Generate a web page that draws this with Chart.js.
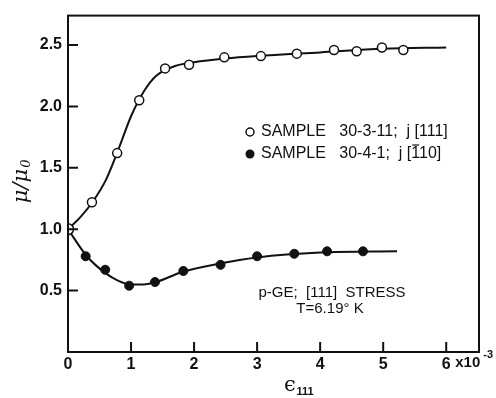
<!DOCTYPE html>
<html>
<head>
<meta charset="utf-8">
<script src="https://cdn.jsdelivr.net/npm/chart.js@4/dist/chart.umd.min.js"></script>
<style>
  body { margin: 0; background: #fff; }
</style>
</head>
<body>
<canvas id="chart" width="496" height="398"></canvas>
<script>
// measured points (strain in units of 1e-3, mobility ratio)
const openX = [0, 0.38, 0.78, 1.13, 1.54, 1.92, 2.48, 3.06, 3.63, 4.22, 4.58, 4.98, 5.32];
const openY = [1.0, 1.22, 1.62, 2.05, 2.31, 2.34, 2.40, 2.41, 2.43, 2.46, 2.45, 2.48, 2.46];
const filledX = [0, 0.28, 0.59, 0.97, 1.38, 1.83, 2.42, 3.0, 3.59, 4.11, 4.68];
const filledY = [1.0, 0.78, 0.67, 0.54, 0.57, 0.66, 0.71, 0.78, 0.80, 0.82, 0.82];

// hand-drawn fit curves
const openFitX = [0, 0.2, 0.4, 0.6, 0.8, 1.0, 1.2, 1.4, 1.7, 2.0, 2.5, 3.0, 4.0, 5.0, 6.0];
const openFitY = [1.0, 1.1, 1.23, 1.4, 1.65, 1.92, 2.12, 2.25, 2.33, 2.36, 2.39, 2.41, 2.44, 2.47, 2.48];
const filledFitX = [0, 0.3, 0.6, 0.8, 1.0, 1.2, 1.4, 1.8, 2.4, 3.0, 4.0, 5.22];
const filledFitY = [1.0, 0.78, 0.64, 0.58, 0.55, 0.55, 0.57, 0.65, 0.72, 0.77, 0.81, 0.82];

const xTicks = [0, 1, 2, 3, 4, 5, 6];
const yTicks = [0.5, 1.0, 1.5, 2.0, 2.5];

const legendLabels = ['SAMPLE   30-3-11;  j [111]', 'SAMPLE   30-4-1;  j [110]'];

const pts = (xs, ys) => xs.map((x, i) => ({ x: x, y: ys[i] }));
const ink = '#111';
const sans = '"Liberation Sans", Arial, sans-serif';

// box, inward ticks and all the free text
const decor = {
  id: 'decor',
  afterDraw(chart) {
    const c = chart.ctx, a = chart.chartArea;
    const xs = chart.scales.x, ys = chart.scales.y;
    c.save();
    c.strokeStyle = ink;
    c.lineWidth = 2;
    c.strokeRect(a.left, a.top, a.right - a.left, a.bottom - a.top);
    c.beginPath();
    xTicks.forEach(v => {
      if (v === 0) return;
      const px = xs.getPixelForValue(v);
      c.moveTo(px, a.bottom); c.lineTo(px, a.bottom - 10);
    });
    yTicks.forEach(v => {
      const py = ys.getPixelForValue(v);
      c.moveTo(a.left, py); c.lineTo(a.left + 10, py);
    });
    c.stroke();

    c.fillStyle = ink;
    c.textBaseline = 'middle';
    // x10^-3 after the last tick label
    const p6 = xs.getPixelForValue(6);
    c.font = 'bold 15px ' + sans;
    c.textAlign = 'left';
    c.fillText('x10', p6 + 9, 363);
    c.font = 'bold 11px ' + sans;
    c.fillText('-3', p6 + 37, 355);

    // axis titles
    c.save();
    c.translate(22, 182);
    c.rotate(-Math.PI / 2);
    c.textAlign = 'left';
    c.font = 'italic 21px "DejaVu Serif", serif';
    const mw = c.measureText('\u03BC/\u03BC').width;
    c.fillText('\u03BC/\u03BC', -mw / 2 - 4, 0);
    c.font = 'italic 13px "DejaVu Serif", serif';
    c.fillText('0', mw / 2 - 3, 5);
    c.restore();
    c.textAlign = 'center';
    c.font = '21px "DejaVu Serif", serif';
    c.fillText('\u03F5', 290, 386);
    c.font = 'bold 11px ' + sans;
    c.fillText('111', 305, 392);

    // legend
    c.font = '16px ' + sans;
    c.textAlign = 'left';
    c.lineWidth = 1.5;
    c.beginPath();
    c.arc(250, 132, 4, 0, Math.PI * 2);
    c.fillStyle = '#fff';
    c.fill();
    c.stroke();
    c.fillStyle = ink;
    c.beginPath();
    c.arc(250, 154, 4.5, 0, Math.PI * 2);
    c.fill();
    c.fillText(legendLabels[0], 261, 132);
    c.fillText(legendLabels[1], 261, 154);
    // overbar on the first index of [110]
    const pre = c.measureText('SAMPLE   30-4-1;  j [').width;
    const w1 = c.measureText('1').width;
    c.lineWidth = 1.2;
    c.beginPath();
    c.moveTo(261 + pre + 1, 145);
    c.lineTo(261 + pre + w1 - 1, 145);
    c.stroke();

    // annotation
    c.font = '15px ' + sans;
    c.textAlign = 'center';
    c.fillText('p-GE;  [111]  STRESS', 332, 293);
    c.fillText('T=6.19\u00B0 K', 330, 309);
    c.restore();
  }
};

new Chart(document.getElementById('chart'), {
  type: 'scatter',
  data: {
    datasets: [
      {
        data: pts(openX, openY),
        showLine: false,
        pointRadius: openX.map((x, i) => i === 0 ? 5.5 : 4.5),
        pointBackgroundColor: '#fff',
        pointBorderColor: ink,
        pointBorderWidth: 1.5
      },
      {
        data: pts(filledX, filledY),
        showLine: false,
        pointRadius: filledX.map((x, i) => i === 0 ? 2 : 4.5),
        pointBackgroundColor: ink,
        pointBorderColor: ink,
        pointBorderWidth: 1
      },
      {
        data: pts(openFitX, openFitY),
        showLine: true,
        pointRadius: 0,
        borderColor: ink,
        borderWidth: 2,
        cubicInterpolationMode: 'monotone'
      },
      {
        data: pts(filledFitX, filledFitY),
        showLine: true,
        pointRadius: 0,
        borderColor: ink,
        borderWidth: 2,
        cubicInterpolationMode: 'monotone'
      }
    ]
  },
  options: {
    responsive: false,
    animation: false,
    layout: { padding: { top: 9, right: 17, left: 0, bottom: 0 } },
    plugins: { legend: { display: false }, tooltip: { enabled: false } },
    scales: {
      x: {
        type: 'linear',
        min: 0,
        max: 6.52,
        afterBuildTicks: s => { s.ticks = xTicks.map(v => ({ value: v })); },
        afterFit: s => { s.height = 46; },
        grid: { display: false, drawTicks: false },
        border: { display: false },
        ticks: {
          color: ink,
          padding: 3,
          maxRotation: 0,
          font: { family: sans, size: 16, weight: 'bold' }
        }
      },
      y: {
        type: 'linear',
        min: 0,
        max: 2.74,
        afterBuildTicks: s => { s.ticks = yTicks.map(v => ({ value: v })); },
        afterFit: s => { s.width = 68; },
        grid: { display: false, drawTicks: false },
        border: { display: false },
        ticks: {
          color: ink,
          padding: 6,
          font: { family: sans, size: 16, weight: 'bold' },
          callback: v => v.toFixed(1)
        }
      }
    }
  },
  plugins: [decor]
});
</script>
</body>
</html>
